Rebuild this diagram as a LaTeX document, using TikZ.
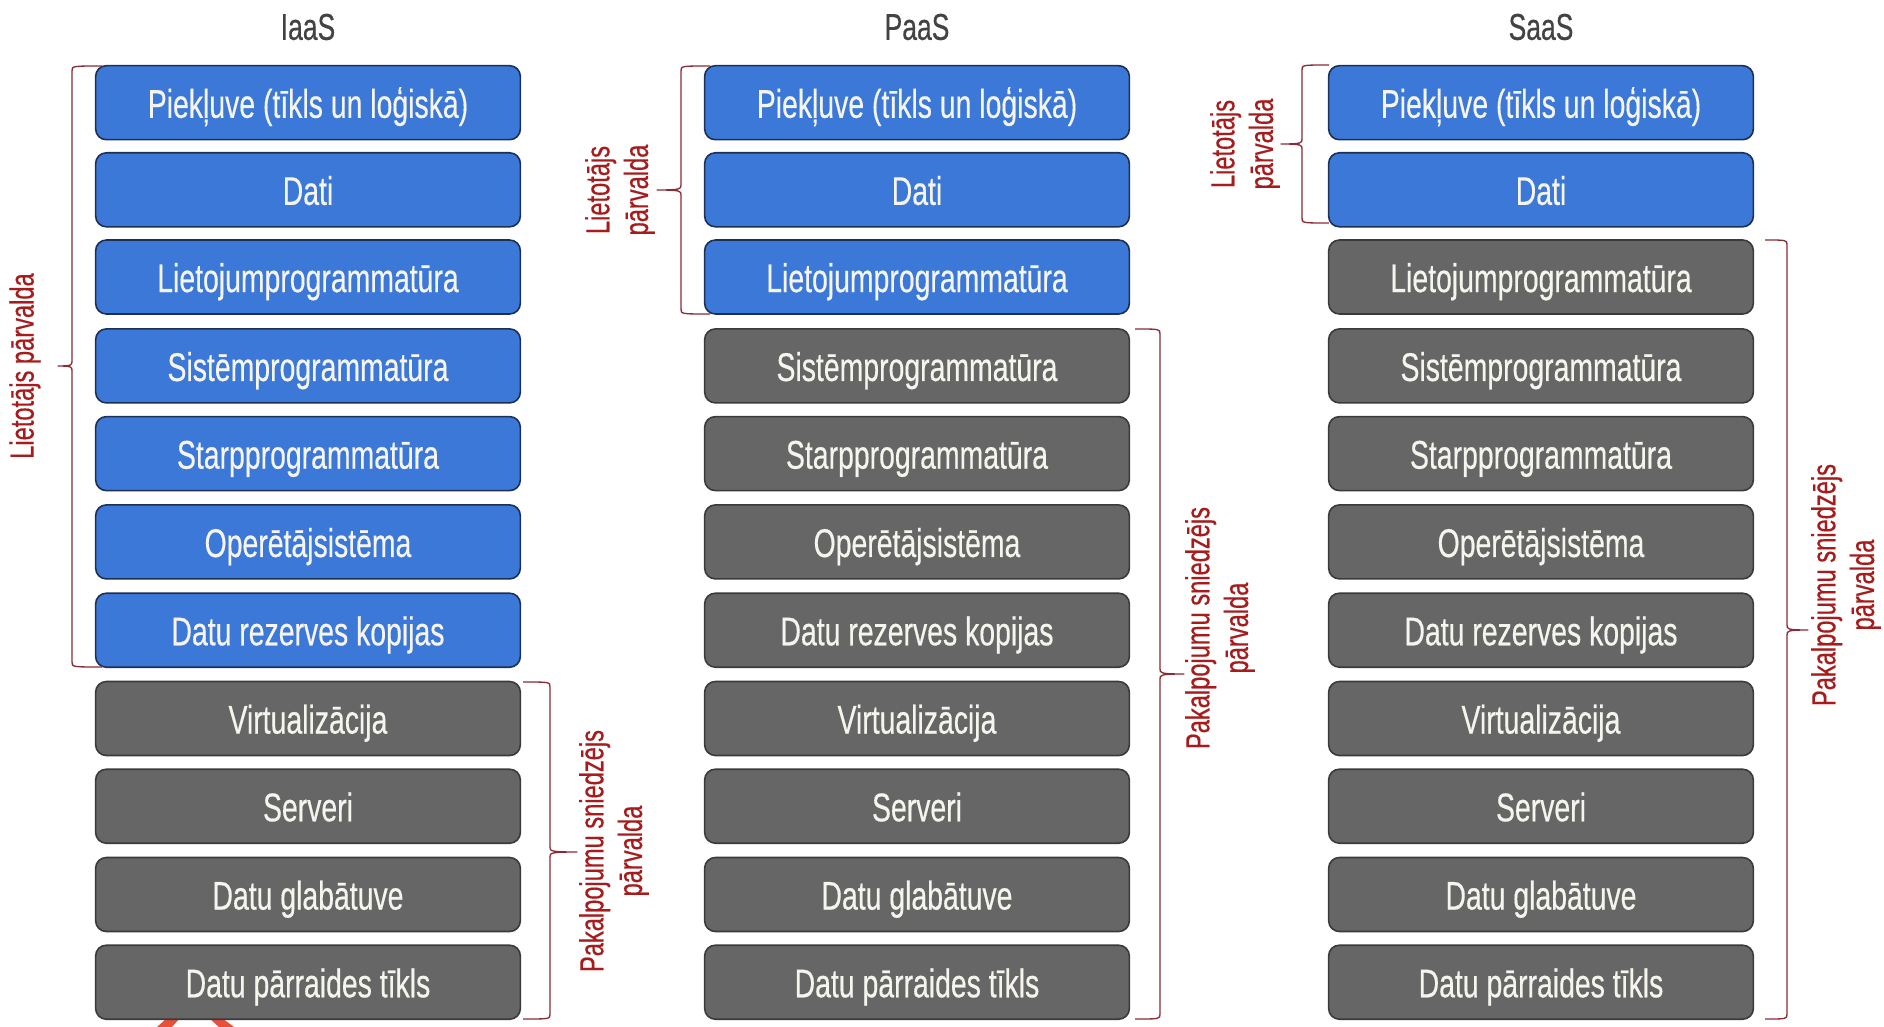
\documentclass[tikz,border=0pt]{standalone}
\usepackage{fontspec}
\usepackage{graphicx}
\setmainfont{Liberation Sans}
\newfontfamily\medfont[FakeBold=0.5]{Liberation Sans}
\newcommand{\cond}[1]{\scalebox{0.71}[1]{#1}}
\newcommand{\cbrace}[6]{% end, spine, tip, top, mid, bottom
  \draw[bracket] (#1,#4) .. controls (#2,#4) and (#2,#4) .. (#2,#4+5)
    -- (#2,#5-5) .. controls (#2,#5-1) and (#2,#5) .. (#3,#5)
    .. controls (#2,#5) and (#2,#5+1) .. (#2,#5+5) -- (#2,#6-5)
    .. controls (#2,#6) and (#2,#6) .. (#1,#6);}
\definecolor{userblue}{HTML}{3C78D8}
\definecolor{userline}{HTML}{1C2F55}
\definecolor{provgray}{HTML}{666666}
\definecolor{provline}{HTML}{3A3A3A}
\definecolor{headgray}{HTML}{434343}
\definecolor{bracketred}{HTML}{8A2A35}
\definecolor{labelred}{HTML}{A61C1C}
\definecolor{boxtext}{HTML}{F5F5EE}
\definecolor{fragred}{HTML}{E8503A}
\tikzset{
  x=0.75pt,y=-0.75pt,
  layerbox/.style={rounded corners=8pt,minimum width=318.5pt,minimum height=55.5pt,
    inner sep=0pt,line width=1.2pt,text=boxtext,text height=22.6pt,text depth=0pt,
    font=\medfont\fontsize{30}{34}\selectfont},
  userbox/.style={layerbox,draw=userline,fill=userblue},
  provbox/.style={layerbox,draw=provline,fill=provgray},
  head/.style={text=headgray,font=\medfont\fontsize{28}{32}\selectfont},
  bracket/.style={draw=bracketred,line width=1pt,line join=round},
  mgmt/.style={text=labelred,rotate=90,align=center,font=\medfont\fontsize{25}{26}\selectfont,inner sep=0pt},
}
\begin{document}
\begin{tikzpicture}
\useasboundingbox (0,0) rectangle (1884,1027);
% red fragment below the first column
\fill[fragred] (167,1018) -- (180,1018) -- (172,1027) -- (157,1027) -- cycle;
\fill[fragred] (209,1018) -- (222,1018) -- (234,1027) -- (219,1027) -- cycle;
% titles
\node[head] (ti) at (308,27) {\cond{IaaS}};
\node[head] (tp) at (917,27) {\cond{PaaS}};
\node[head] (ts) at (1541,27) {\cond{SaaS}};
% stacks
\foreach \col/\cx/\nblue in {i/308/7,p/917/3,s/1541/2}{
  \foreach \r/\cy/\txt in {
    1/102.7/{Piekļuve (tīkls un loģiskā)},
    2/189.8/{Dati},
    3/277/{Lietojumprogrammatūra},
    4/365.9/{Sistēmprogrammatūra},
    5/453.6/{Starpprogrammatūra},
    6/541.9/{Operētājsistēma},
    7/630.2/{Datu rezerves kopijas},
    8/718.5/{Virtualizācija},
    9/806.2/{Serveri},
    10/894.5/{Datu glabātuve},
    11/982.2/{Datu pārraides tīkls}}{
    \ifnum\r>\nblue\relax
      \node[provbox] (\col\r) at (\cx,\cy) {\cond{\txt}};
    \else
      \node[userbox] (\col\r) at (\cx,\cy) {\cond{\txt}};
    \fi
  }
}
% braces
\cbrace{102}{72}{58}{66}{366}{667}
\cbrace{523}{550}{577}{682}{852}{1019}
\cbrace{710}{681}{657}{66}{190}{314}
\cbrace{1135}{1160}{1184}{329}{674}{1019}
\cbrace{1329}{1302}{1281}{65}{144}{223}
\cbrace{1765}{1787}{1808}{240}{630}{1019}
% labels
\node[mgmt] (l1) at (25,366) {\cond{Lietotājs pārvalda}};
\node[mgmt] (l2) at (614,851) {\cond{Pakalpojumu sniedzējs}\\[3pt]\cond{pārvalda}};
\node[mgmt] (l3) at (620,190) {\cond{Lietotājs}\\[3pt]\cond{pārvalda}};
\node[mgmt] (l4) at (1220,628) {\cond{Pakalpojumu sniedzējs}\\[3pt]\cond{pārvalda}};
\node[mgmt] (l5) at (1245,144) {\cond{Lietotājs}\\[3pt]\cond{pārvalda}};
\node[mgmt] (l6) at (1846,585) {\cond{Pakalpojumu sniedzējs}\\[3pt]\cond{pārvalda}};
\end{tikzpicture}
\end{document}
